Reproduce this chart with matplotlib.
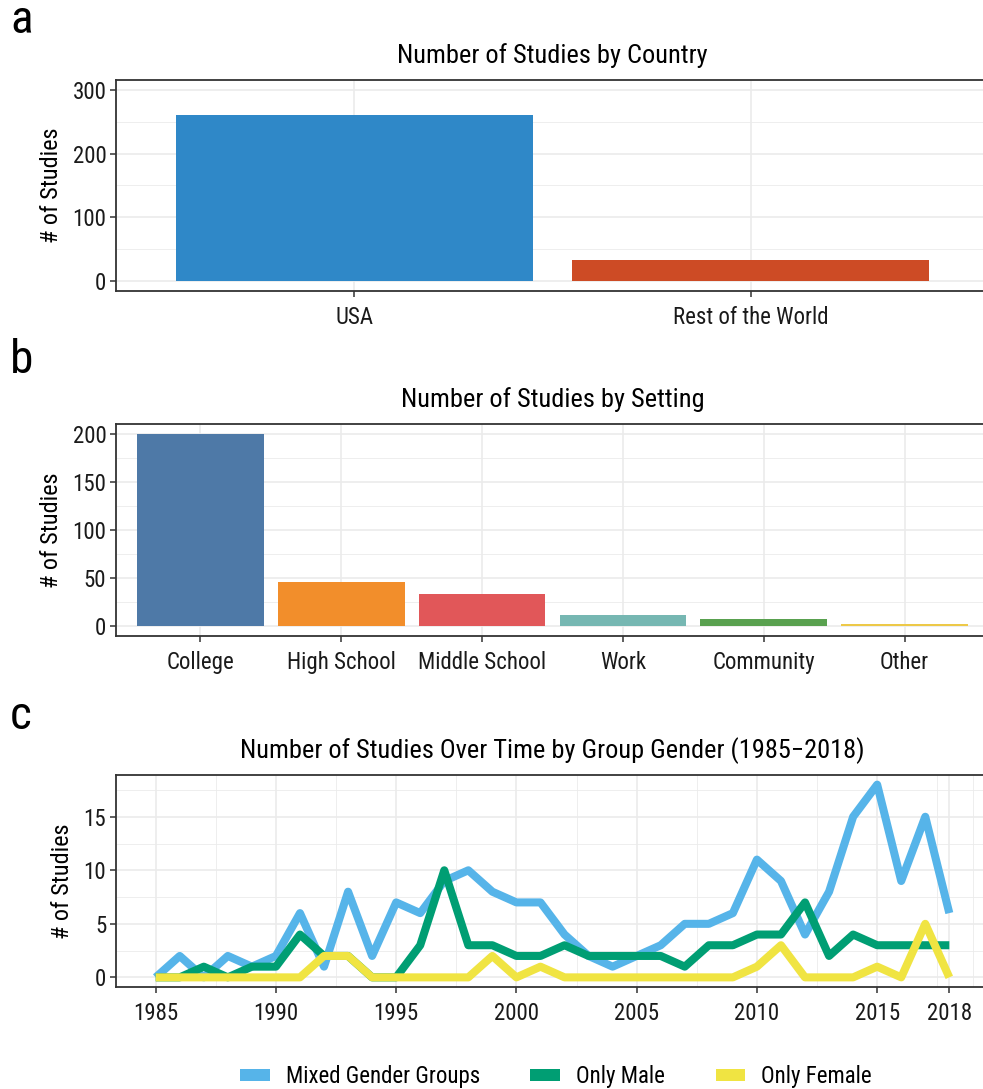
import matplotlib
matplotlib.use("Agg")
import matplotlib.pyplot as plt
from matplotlib import font_manager
from matplotlib.patches import Patch

# ---------------- data ----------------
countries = ["USA", "Rest of the World"]
country_counts = [261, 33]
country_colors = ["#2F88C8", "#CD4B25"]

settings = ["College", "High School", "Middle School", "Work", "Community", "Other"]
setting_counts = [200, 46, 34, 12, 8, 2]
setting_colors = ["#4E79A7", "#F28E2B", "#E15759", "#76B7B2", "#59A14F", "#EDC948"]

years = list(range(1985, 2019))
mixed = [0, 2, 0, 2, 1, 2, 6, 1, 8, 2, 7, 6, 9, 10, 8, 7, 7, 4, 2, 1, 2, 3,
         5, 5, 6, 11, 9, 4, 8, 15, 18, 9, 15, 6]
male = [0, 0, 1, 0, 1, 1, 4, 2, 2, 0, 0, 3, 10, 3, 3, 2, 2, 3, 2, 2, 2, 2,
        1, 3, 3, 4, 4, 7, 2, 4, 3, 3, 3, 3]
female = [0, 0, 0, 0, 0, 0, 0, 2, 2, 0, 0, 0, 0, 0, 2, 0, 1, 0, 0, 0, 0, 0,
          0, 0, 0, 1, 3, 0, 0, 0, 1, 0, 5, 0]
series_names = ["Mixed Gender Groups", "Only Male", "Only Female"]
series_colors = ["#56B4E9", "#009E73", "#F0E442"]
year_ticks = [1985, 1990, 1995, 2000, 2005, 2010, 2015, 2018]

# ---------------- fonts ----------------
avail = {f.name for f in font_manager.fontManager.ttflist}
fam = None
for cand in ["Roboto Condensed", "Liberation Sans Narrow", "Roboto", "Liberation Sans"]:
    if cand in avail:
        fam = cand
        break
plt.rcParams["font.family"] = [fam, "DejaVu Sans"] if fam else ["DejaVu Sans"]

W, H = 983, 1089
fig = plt.figure(figsize=(W / 100, H / 100), dpi=100)

def ax_px(left, right, top, bottom):
    return fig.add_axes([left / W, 1 - bottom / H, (right - left) / W, (bottom - top) / H])

SP = "#333333"
GRID = "#EBEBEB"
TICK_FS = 16.5
TITLE_FS = 19
YLAB_FS = 17.5

def style(ax):
    ax.set_facecolor("white")
    for s in ["left", "bottom", "top"]:
        ax.spines[s].set_color(SP)
        ax.spines[s].set_linewidth(1.3)
    ax.spines["right"].set_visible(False)
    ax.tick_params(axis="both", colors=SP, labelcolor="#1A1A1A", labelsize=TICK_FS,
                   length=4, width=1.1, direction="out")
    ax.tick_params(which="minor", length=0)
    ax.tick_params(axis="x", pad=7)
    ax.tick_params(axis="y", pad=3)
    ax.set_axisbelow(True)
    ax.grid(which="major", color=GRID, lw=1.2)
    ax.grid(which="minor", color=GRID, lw=0.6)

# ---------------- panel a ----------------
axa = ax_px(116, 989, 80, 291)
style(axa)
xa = list(range(len(countries)))
axa.bar(xa, country_counts, width=0.9, color=country_colors, zorder=2)
axa.set_xlim(-0.6, len(countries) - 0.4)
axa.set_ylim(-15, 315)
axa.set_yticks([0, 100, 200, 300])
axa.set_yticks([50, 150, 250], minor=True)
axa.set_xticks(xa)
axa.set_xticklabels(countries)
axa.set_ylabel("# of Studies", fontsize=YLAB_FS, labelpad=7)
axa.set_title("Number of Studies by Country", fontsize=TITLE_FS, pad=12)

# ---------------- panel b ----------------
axb = ax_px(116, 989, 424, 636)
style(axb)
xb = list(range(len(settings)))
axb.bar(xb, setting_counts, width=0.9, color=setting_colors, zorder=2)
axb.set_xlim(-0.6, len(settings) - 0.4)
axb.set_ylim(-10, 210)
axb.set_yticks([0, 50, 100, 150, 200])
axb.set_yticks([25, 75, 125, 175], minor=True)
axb.set_xticks(xb)
axb.set_xticklabels(settings)
axb.set_ylabel("# of Studies", fontsize=YLAB_FS, labelpad=7)
axb.set_title("Number of Studies by Setting", fontsize=TITLE_FS, pad=12)

# ---------------- panel c ----------------
axc = ax_px(116, 989, 775, 987)
style(axc)
for vals, col in zip([mixed, male, female], series_colors):
    axc.plot(years, vals, color=col, lw=5.8, solid_joinstyle="round",
             solid_capstyle="butt", zorder=3)
axc.set_xlim(1985 - 1.65, 2018 + 1.65)
axc.set_ylim(-0.9, 18.9)
axc.set_xticks(year_ticks)
axc.set_xticks([1987.5, 1992.5, 1997.5, 2002.5, 2007.5, 2012.5, 2017.5, 2019], minor=True)
axc.set_yticks([0, 5, 10, 15])
axc.set_yticks([2.5, 7.5, 12.5, 17.5], minor=True)
axc.set_ylabel("# of Studies", fontsize=YLAB_FS, labelpad=7)
axc.set_title("Number of Studies Over Time by Group Gender (1985\u22122018)",
              fontsize=TITLE_FS, pad=12)

handles = [Patch(facecolor=c, edgecolor="none") for c in series_colors]
fig.legend(handles, series_names, loc="center", bbox_to_anchor=(556 / W, 1 - 1077 / H),
           ncol=3, frameon=False, fontsize=TICK_FS, handlelength=1.3, handleheight=0.45,
           columnspacing=2.2, handletextpad=0.7)

# panel letters
for lab, y in [("a", 20), ("b", 360), ("c", 716)]:
    fig.text(10 / W, 1 - y / H, lab, fontsize=34, ha="left", va="center", color="black")

fig.savefig("out.png", dpi=100, facecolor="white")
